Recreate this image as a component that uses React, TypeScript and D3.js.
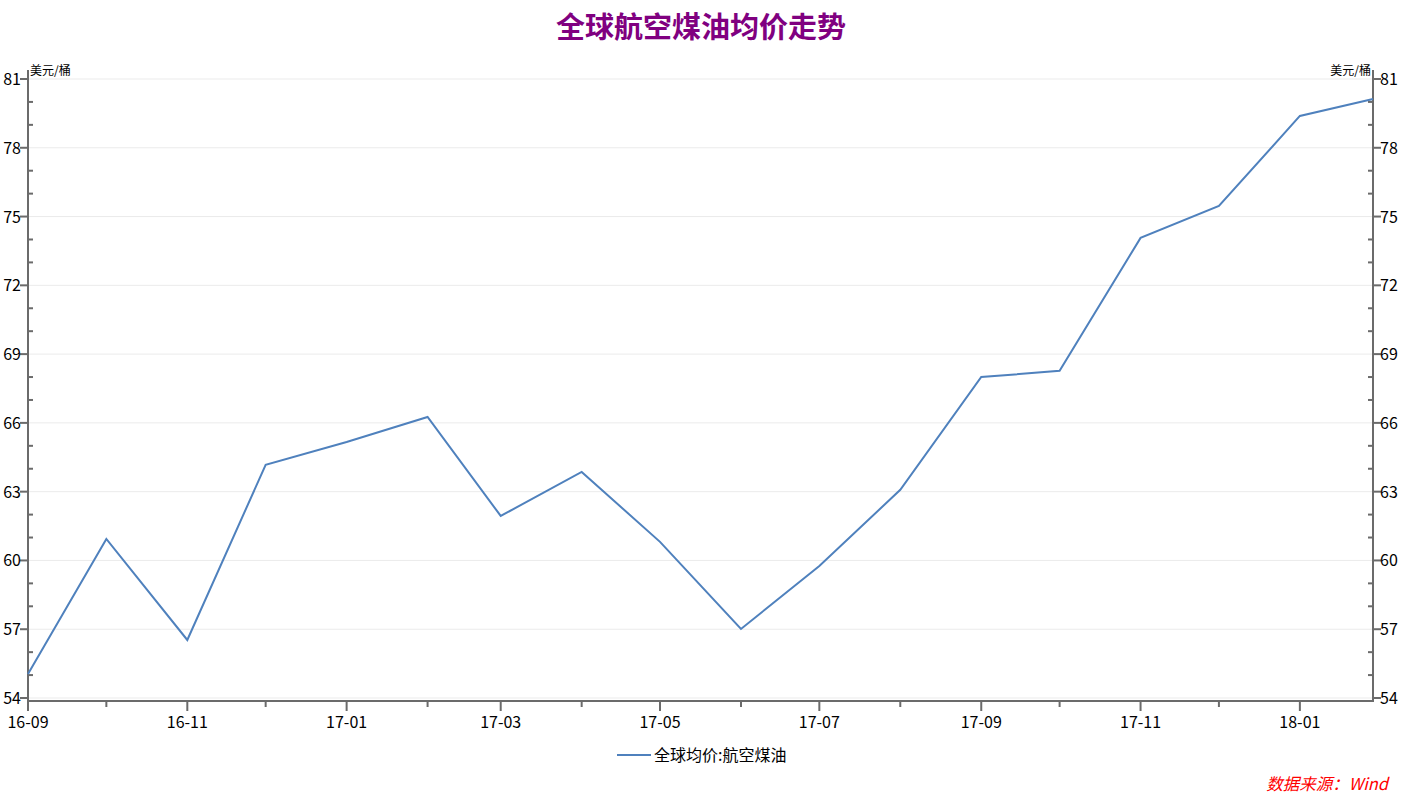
import React from "react";
import * as d3 from "d3";

const dates: string[] = [
  "2016-09-01", "2016-10-01", "2016-11-01", "2016-12-01", "2017-01-01", "2017-02-01",
  "2017-03-01", "2017-04-01", "2017-05-01", "2017-06-01", "2017-07-01", "2017-08-01",
  "2017-09-01", "2017-10-01", "2017-11-01", "2017-12-01", "2018-01-01", "2018-01-29",
];
const values: number[] = [
  55.05, 60.94, 56.53, 64.17, 65.17, 66.26, 61.94, 63.86, 60.81, 57.01,
  59.76, 63.08, 68.0, 68.27, 74.07, 75.46, 79.39, 80.13,
];
const yTicks: number[] = [54, 57, 60, 63, 66, 69, 72, 75, 78, 81];
const xTickLabels: string[] = ["16-09", "16-11", "17-01", "17-03", "17-05", "17-07", "17-09", "17-11", "18-01"];
const title = "全球航空煤油均价走势";
const unit = "美元/桶";
const seriesName = "全球均价:航空煤油";
const source = "数据来源：Wind";

const W = 1416, H = 795;
const left = 28, right = 1373, top = 70, bottom = 701;
const font = "'Noto Sans CJK SC', 'Noto Sans', sans-serif";

export default function App() {
  const parse = d3.timeParse("%Y-%m-%d");
  const pts = dates.map((d, i) => ({ d: parse(d) as Date, v: values[i] }));
  const x = d3.scaleTime().domain([pts[0].d, pts[pts.length - 1].d]).range([left, right]);
  const y = d3.scaleLinear().domain([54, 81]).range([698, 79]);
  const line = d3.line<{ d: Date; v: number }>().x(p => x(p.d)).y(p => y(p.v));
  const minorY = d3.range(54, 82, 1).filter(v => !yTicks.includes(v));
  const months = d3.timeMonth.range(pts[0].d, d3.timeDay.offset(pts[pts.length - 1].d, 1));
  const fmt = d3.timeFormat("%y-%m");
  const axisColor = "#6b6b6b";

  return (
    <svg width={W} height={H} style={{ position: "absolute", left: 0, top: 0, background: "#fff" }} fontFamily={font}>
      <text x={701} y={38} textAnchor="middle" fontSize={29} fontWeight="bold" fill="#800080">{title}</text>
      {yTicks.map(t => (
        <line key={"g" + t} x1={left} x2={right} y1={y(t)} y2={y(t)} stroke="#ebebeb" strokeWidth={1} />
      ))}
      <line x1={left} x2={left} y1={top} y2={bottom + 1} stroke={axisColor} strokeWidth={2} />
      <line x1={right} x2={right} y1={top} y2={bottom + 1} stroke={axisColor} strokeWidth={2} />
      <line x1={left - 1} x2={right + 1} y1={bottom} y2={bottom} stroke={axisColor} strokeWidth={2} />
      {yTicks.map(t => (
        <g key={"yt" + t}>
          <line x1={left - 8} x2={left} y1={y(t)} y2={y(t)} stroke={axisColor} strokeWidth={2} />
          <text x={left - 7} y={y(t) + 6} textAnchor="end" fontSize={16} fill="#000">{t}</text>
          <line x1={right} x2={right + 8} y1={y(t)} y2={y(t)} stroke={axisColor} strokeWidth={2} />
          <text x={right + 7} y={y(t) + 6} textAnchor="start" fontSize={16} fill="#000">{t}</text>
        </g>
      ))}
      {minorY.map(t => (
        <g key={"ym" + t}>
          <line x1={left} x2={left + 5} y1={y(t)} y2={y(t)} stroke={axisColor} strokeWidth={2} />
          <line x1={right - 5} x2={right} y1={y(t)} y2={y(t)} stroke={axisColor} strokeWidth={2} />
        </g>
      ))}
      {months.map(m => {
        const lab = fmt(m);
        const major = xTickLabels.includes(lab);
        const xx = x(m);
        return (
          <g key={lab}>
            <line x1={xx} x2={xx} y1={bottom} y2={bottom + (major ? 10 : 6)} stroke={axisColor} strokeWidth={2} />
            {major && (
              <text x={xx} y={728} textAnchor="middle" fontSize={16} fill="#000">{lab}</text>
            )}
          </g>
        );
      })}
      <text x={30} y={75} fontSize={12} fill="#000">{unit}</text>
      <text x={1371} y={75} fontSize={12} fill="#000" textAnchor="end">{unit}</text>
      <path d={line(pts) || ""} fill="none" stroke="#4f81bd" strokeWidth={2} />
      <line x1={617} x2={651} y1={755} y2={755} stroke="#4f81bd" strokeWidth={2} />
      <text x={654} y={761} fontSize={16} fill="#000">{seriesName}</text>
      <text x={1388} y={790} textAnchor="end" fontSize={16.5} fontStyle="italic" fill="#ff0000">{source}</text>
    </svg>
  );
}
